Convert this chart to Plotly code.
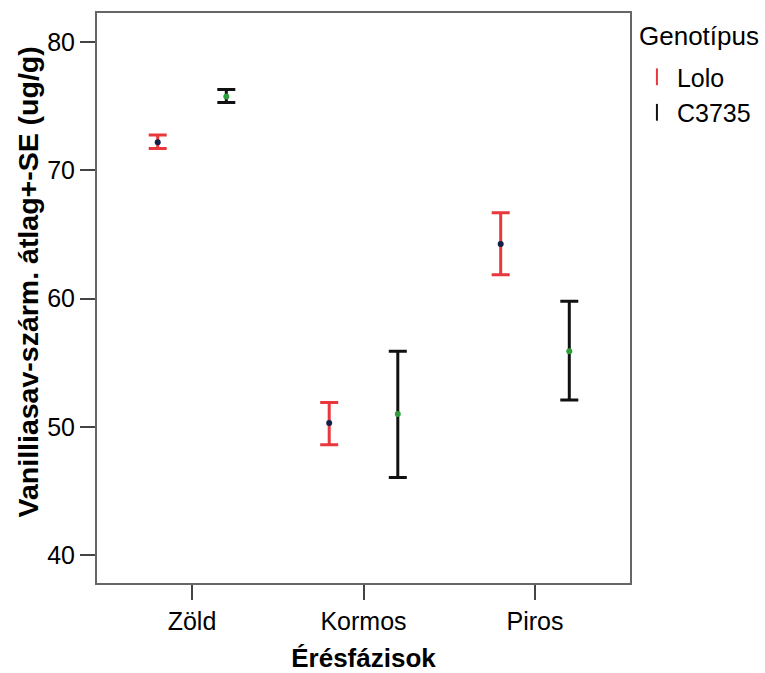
import plotly.graph_objects as go

categories = ["Zöld", "Kormos", "Piros"]
groups = ["Lolo", "C3735"]
lolo_mean = [72.2, 50.3, 64.25]
lolo_upper = [72.75, 51.9, 66.7]
lolo_lower = [71.7, 48.6, 61.85]
c_mean = [75.75, 51.0, 55.9]
c_upper = [76.3, 55.9, 59.8]
c_lower = [75.3, 46.05, 52.1]
y_ticks = [40, 50, 60, 70, 80]

FONT = "Liberation Sans, Arial, sans-serif"
RED = "#e8373d"
BLACK = "#111111"
offset = 0.2

fig = go.Figure()

def add_series(name, means, up, lo, shift, err_color, dot_color):
    xs = [i + shift for i in range(len(categories))]
    fig.add_trace(go.Scatter(
        x=xs, y=means, mode="markers", name=name, showlegend=False,
        marker=dict(size=6, color=dot_color),
        error_y=dict(type="data", symmetric=False,
                     array=[u - m for u, m in zip(up, means)],
                     arrayminus=[m - l for m, l in zip(means, lo)],
                     color=err_color, thickness=3, width=9),
    ))
    fig.add_trace(go.Scatter(
        x=[None], y=[None], mode="markers", name=name, showlegend=True,
        marker=dict(symbol="line-ns-open", size=18, color=err_color,
                    line=dict(color=err_color, width=3.5)),
    ))

add_series(groups[0], lolo_mean, lolo_upper, lolo_lower, -offset, RED, "#10204a")
add_series(groups[1], c_mean, c_upper, c_lower, offset, BLACK, "#2e9e3a")

fig.update_layout(
    width=765, height=673,
    margin=dict(l=97, r=135, t=13, b=90, autoexpand=False),
    paper_bgcolor="white", plot_bgcolor="white",
    font=dict(family=FONT, size=25, color="black"),
    showlegend=True,
    legend=dict(
        x=1.013, xanchor="left", y=0.928, yanchor="top",
        font=dict(size=25), itemsizing="constant", itemwidth=30,
        tracegroupgap=0, bgcolor="rgba(0,0,0,0)",
    ),
    xaxis=dict(
        range=[-0.554, 2.554], automargin=False,
        tickmode="array", tickvals=list(range(len(categories))), ticktext=categories,
        ticks="outside", ticklen=15, tickwidth=1.5, tickcolor="#444",
        showline=True, linecolor="#666", linewidth=2, mirror=True,
        showgrid=False, zeroline=False,
        tickfont=dict(size=25),
        title=dict(text="<b>Érésfázisok</b>", font=dict(size=26), standoff=22),
    ),
    yaxis=dict(
        range=[37.82, 82.27], automargin=False,
        tickmode="array", tickvals=y_ticks,
        ticks="outside", ticklen=15, tickwidth=1.5, tickcolor="#444",
        showline=True, linecolor="#666", linewidth=2, mirror=True,
        showgrid=False, zeroline=False,
        tickfont=dict(size=25),
    ),
    annotations=[
        dict(
            text="<b>Vanilliasav-szárm. átlag+-SE (ug/g)</b>",
            textangle=-90, xref="paper", yref="paper",
            x=-0.1295, y=0.529, xanchor="center", yanchor="middle",
            showarrow=False, font=dict(size=28.5, family=FONT, color="black"),
        ),
        dict(
            text="Genotípus", xref="paper", yref="paper",
            x=1.013, y=0.9605, xanchor="left", yanchor="middle",
            showarrow=False, font=dict(size=26, family=FONT, color="black"),
        ),
    ],
)

fig.write_html("out.html", config={"displayModeBar": False},
               post_script="document.body.style.margin='0px';")
